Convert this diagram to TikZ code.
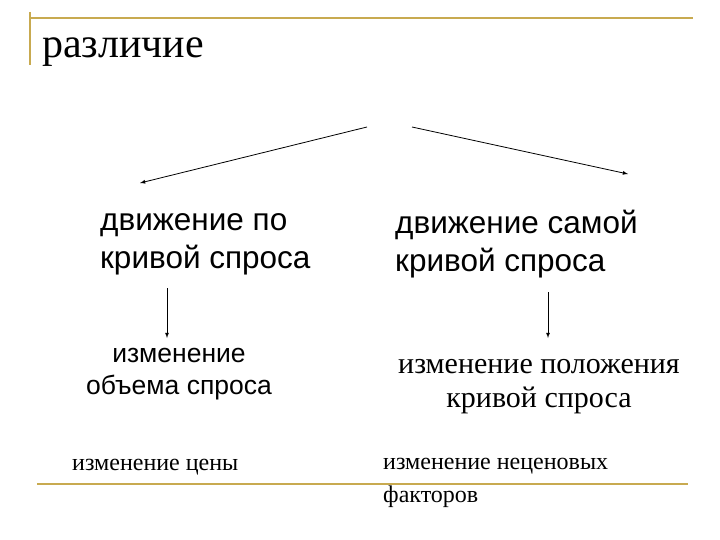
\documentclass[tikz,border=0pt]{standalone}
\usepackage{fontspec}
\newfontfamily\serf{Liberation Serif}
\newfontfamily\sanf{Liberation Sans}
\definecolor{gold}{RGB}{200,170,80}
\begin{document}
\begin{tikzpicture}[x=1pt,y=-1pt,
  big/.style={font=\sanf\fontsize{31.5}{38}\selectfont,align=left,inner sep=0},
  mid/.style={font=\sanf\fontsize{26.5}{32}\selectfont,align=center,inner sep=0},
  midser/.style={font=\serf\fontsize{30}{34}\selectfont,align=center,inner sep=0},
  small/.style={font=\serf\fontsize{24}{33}\selectfont,align=left,inner sep=0,anchor=west},
  arr/.style={-latex,thick}]
\useasboundingbox (0,0) rectangle (720,540);
\draw[gold,line width=1.5pt] (30,18) -- (693,18);
\draw[gold,line width=1.5pt] (30,12) -- (30,65);
\draw[gold,line width=2pt] (37,484) -- (688,484);
\node[anchor=west,inner sep=0,font=\serf\fontsize{42}{44}\selectfont] (t) at (42,52) {различие};
\coordinate (l0) at (367,127); \coordinate (r0) at (412,127);
\node[big,anchor=west] (a) at (100,244) {движение по\\кривой спроса};
\node[big,anchor=west] (b) at (395,244) {движение самой\\кривой спроса};
\coordinate (al) at (140,183); \coordinate (br) at (628,174);
\draw[arr] (l0) -- (al);
\draw[arr] (r0) -- (br);
\node[mid] (c) at (179,374) {изменение\\объема спроса};
\node[midser] (d) at (539,387) {изменение положения\\кривой спроса};
\coordinate (a1) at (167,288); \coordinate (a2) at (167,338);
\coordinate (b1) at (548,292); \coordinate (b2) at (548,338);
\draw[arr] (a1) -- (a2);
\draw[arr] (b1) -- (b2);
\node[small] (e) at (72,467) {изменение цены};
\node[small] (f) at (383,483) {изменение неценовых\\факторов};
\end{tikzpicture}
\end{document}
